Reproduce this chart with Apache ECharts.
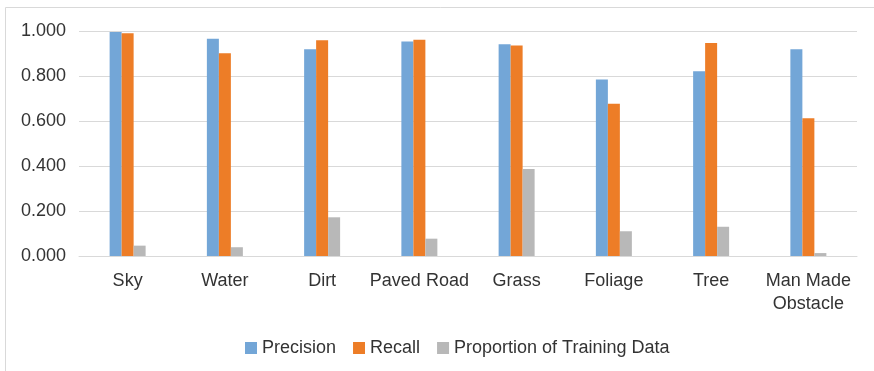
<!DOCTYPE html>
<html>
<head>
<meta charset="utf-8">
<script src="https://cdn.jsdelivr.net/npm/echarts@6/dist/echarts.min.js"></script>
<style>
  html, body { margin: 0; padding: 0; background: #fff; }
  #chart { width: 874px; height: 371px; }
</style>
</head>
<body>
<div id="chart"></div>
<script>
// Per-class segmentation metrics
const categories = ['Sky', 'Water', 'Dirt', 'Paved Road', 'Grass', 'Foliage', 'Tree', 'Man Made\nObstacle'];
const precision = [0.996, 0.966, 0.919, 0.953, 0.941, 0.785, 0.821, 0.919];
const recall = [0.990, 0.901, 0.959, 0.961, 0.936, 0.677, 0.947, 0.612];
const trainingShare = [0.046, 0.039, 0.172, 0.077, 0.387, 0.110, 0.130, 0.013];
const seriesNames = ['Precision', 'Recall', 'Proportion of Training Data'];
const yTicks = [0, 0.2, 0.4, 0.6, 0.8, 1.0];

const textColor = '#333333';
const font = 'Liberation Sans, Arial, sans-serif';

const chart = echarts.init(document.getElementById('chart'));
chart.setOption({
  animation: false,
  color: ['#73A6D7', '#ED7D27', '#B8B8B8'],
  graphic: [{
    type: 'rect',
    shape: { x: 5.5, y: 7.5, width: 900, height: 420 },
    style: { fill: 'none', stroke: '#d9d9d9', lineWidth: 1 },
    silent: true
  }],
  grid: { left: 79, right: 17, top: 31, bottom: 115, containLabel: false },
  legend: {
    data: seriesNames,
    left: 240,
    top: 334,
    icon: 'rect',
    itemWidth: 12,
    itemHeight: 12,
    itemGap: 17,
    textStyle: { color: textColor, fontSize: 18, fontFamily: font }
  },
  xAxis: {
    type: 'category',
    data: categories,
    axisLine: { lineStyle: { color: '#d9d9d9', width: 1 } },
    axisTick: { show: false },
    axisLabel: {
      color: textColor, fontSize: 18, fontFamily: font,
      margin: 14, lineHeight: 23, interval: 0
    }
  },
  yAxis: {
    type: 'value',
    min: yTicks[0],
    max: yTicks[yTicks.length - 1],
    interval: 0.2,
    axisLine: { show: false },
    axisTick: { show: false },
    splitLine: { lineStyle: { color: '#d9d9d9', width: 1 } },
    axisLabel: {
      color: textColor, fontSize: 18, fontFamily: font, margin: 13,
      formatter: v => v.toFixed(3)
    }
  },
  series: [
    { name: seriesNames[0], type: 'bar', data: precision, barWidth: 12, barGap: '0%' },
    { name: seriesNames[1], type: 'bar', data: recall, barWidth: 12, barGap: '0%' },
    { name: seriesNames[2], type: 'bar', data: trainingShare, barWidth: 12, barGap: '0%' }
  ]
});
</script>
</body>
</html>
